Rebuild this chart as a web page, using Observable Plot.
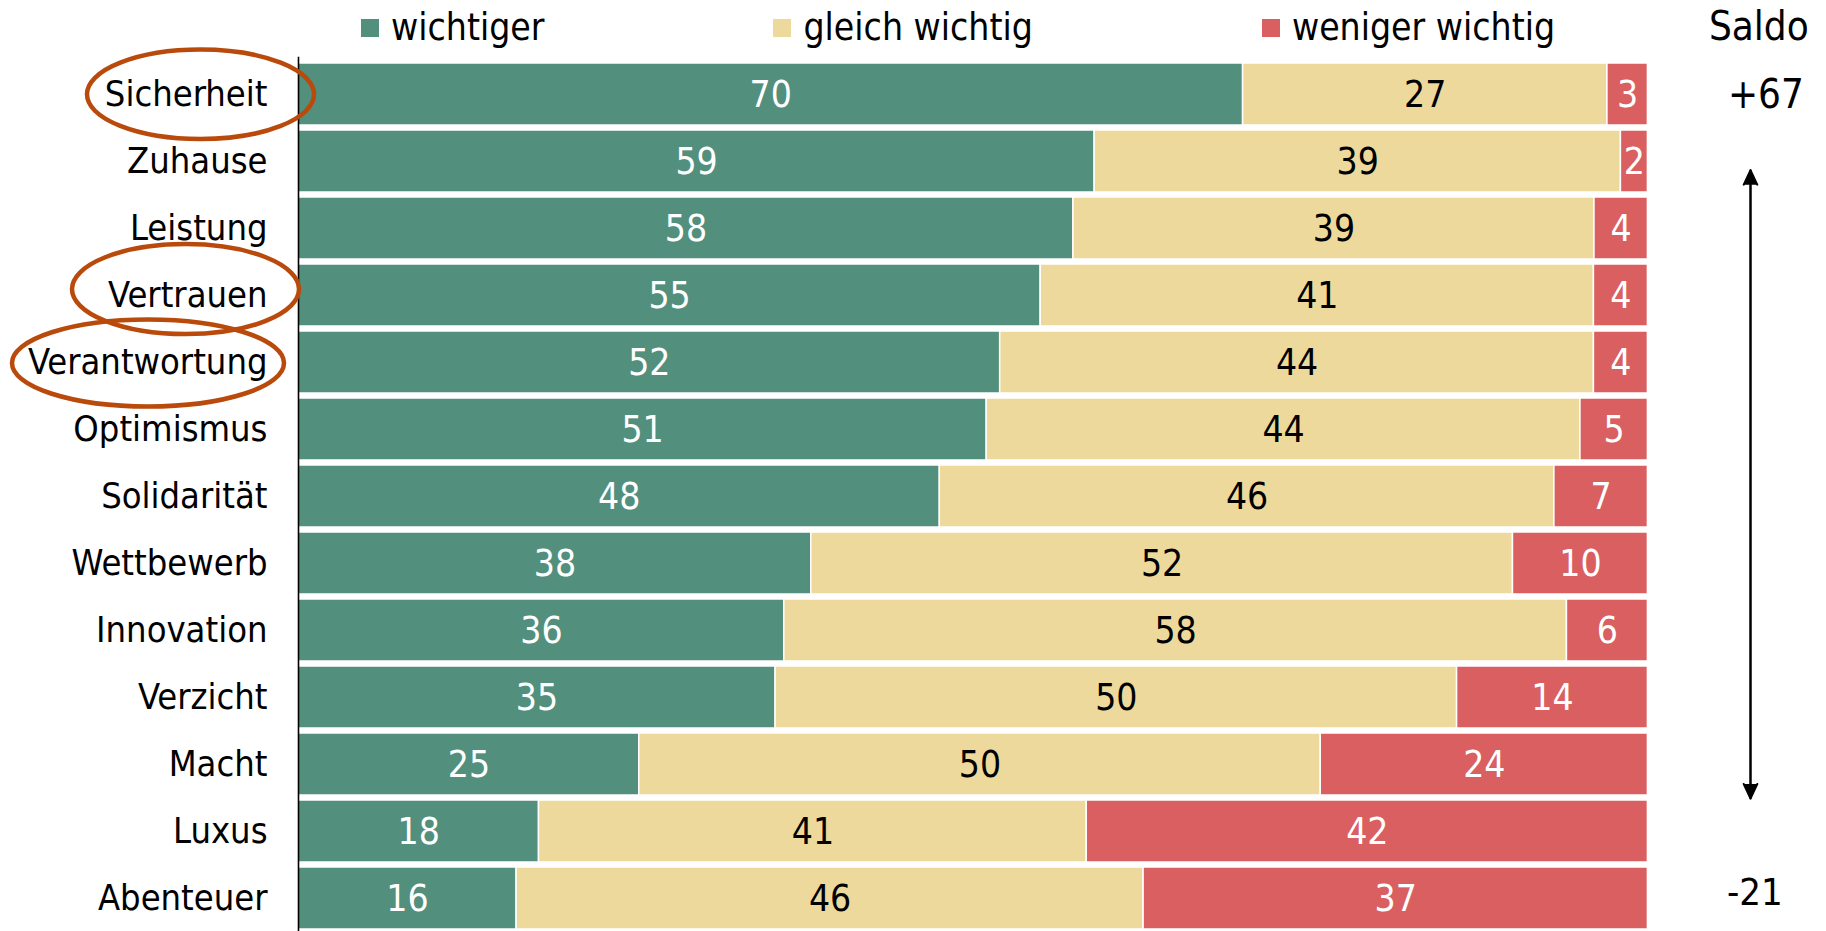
<!DOCTYPE html>
<html>
<head>
<meta charset="utf-8">
<script src="https://cdn.jsdelivr.net/npm/d3@7"></script>
<script src="https://cdn.jsdelivr.net/npm/@observablehq/plot@0.6"></script>
<style>
  html, body { margin: 0; padding: 0; background: #fff; overflow: hidden; }
  #wrap { position: relative; width: 1826px; height: 931px; }
  #wrap svg { display: block; }
  #legend { position: absolute; left: 361px; top: 10px; height: 36px; display: flex; align-items: center;
            font-family: "DejaVu Sans Condensed", "DejaVu Sans", sans-serif; font-stretch: condensed;
            font-size: 37px; line-height: 36px; color: #000; white-space: nowrap; }
  #legend .item { display: flex; align-items: center; margin-right: 229px; }
  #legend .sw { width: 18px; height: 18px; margin-right: 12px; }
  svg text { font-stretch: condensed; }
</style>
</head>
<body>
<div id="wrap"><div id="legend"></div></div>
<script>
// ---- data ----
const categories = ["Sicherheit", "Zuhause", "Leistung", "Vertrauen", "Verantwortung", "Optimismus",
  "Solidarität", "Wettbewerb", "Innovation", "Verzicht", "Macht", "Luxus", "Abenteuer"];
const series = ["wichtiger", "gleich wichtig", "weniger wichtig"];
const wichtiger      = [70, 59, 58, 55, 52, 51, 48, 38, 36, 35, 25, 18, 16];
const gleichWichtig  = [27, 39, 39, 41, 44, 44, 46, 52, 58, 50, 50, 41, 46];
const wenigerWichtig = [3, 2, 4, 4, 4, 5, 7, 10, 6, 14, 24, 42, 37];
const highlighted = ["Sicherheit", "Vertrauen", "Verantwortung"];
const saldoTitle = "Saldo";
const saldoShown = [categories[0], categories[categories.length - 1]];
const arrowSpan = {from: categories[1], to: categories[11]};

// ---- styles ----
const colors = ["#528F7D", "#EDD99B", "#D95F60"];
const ovalColor = "#B94A0B";
const FONT = '"DejaVu Sans Condensed", "DejaVu Sans", sans-serif';
// oval geometry relative to the axis and band centre (style only)
const ovalGeom = {
  "Sicherheit":    {dx: -97.5,  dy: 0.3,  rx: 113.5, ry: 44.7},
  "Vertrauen":     {dx: -112.5, dy: -5.9, rx: 113.5, ry: 45},
  "Verantwortung": {dx: -150,   dy: 1,    rx: 136,   ry: 43.5}
};

// ---- table ----
const seriesValues = [wichtiger, gleichWichtig, wenigerWichtig];
const table = [];
categories.forEach((c, i) => series.forEach((s, j) => table.push({category: c, series: s, value: seriesValues[j][i]})));
const saldoRows = saldoShown.map(c => {
  const i = categories.indexOf(c);
  return {category: c, saldo: wichtiger[i] - wenigerWichtig[i]};
});
const fmtSaldo = d => (d.saldo > 0 ? "+" : "") + d.saldo;

// ---- legend ----
const legend = document.getElementById("legend");
series.forEach((s, i) => {
  const item = document.createElement("div");
  item.className = "item";
  const sw = document.createElement("div");
  sw.className = "sw";
  sw.style.background = colors[i];
  const t = document.createElement("span");
  t.textContent = s;
  item.appendChild(sw); item.appendChild(t);
  legend.appendChild(item);
});

// ---- chart ----
const stackOpts = {x: "value", y: "category", z: "series", offset: "normalize"};
const hasAxisMark = typeof Plot.axisY === "function";

const ovals = (index, scales) => {
  const g = d3.create("svg:g");
  const x0 = scales.x(0);
  const bw = scales.y.bandwidth ? scales.y.bandwidth() : 0;
  highlighted.forEach(c => {
    const o = ovalGeom[c];
    g.append("ellipse")
      .attr("cx", x0 + o.dx)
      .attr("cy", scales.y(c) + bw / 2 + o.dy)
      .attr("rx", o.rx).attr("ry", o.ry)
      .attr("fill", "none").attr("stroke", ovalColor).attr("stroke-width", 4.5);
  });
  return g.node();
};

const marks = [
  Plot.barX(table, Plot.stackX({...stackOpts, fill: "series", stroke: "white", strokeWidth: 1.5})),
  Plot.text(table, Plot.stackX({...stackOpts, text: d => d.series !== series[1] ? String(d.value) : "",
    fill: "white", fontSize: 37, dy: 1})),
  Plot.text(table, Plot.stackX({...stackOpts, text: d => d.series === series[1] ? String(d.value) : "",
    fill: "black", fontSize: 37, dy: 1})),
  Plot.ruleX([0], {stroke: "#000", strokeWidth: 1.6, insetTop: -2.5}),
  Plot.text([saldoTitle], {text: d => d, frameAnchor: "top-right", textAnchor: "start", dx: 61, dy: -48.5, fontSize: 40, fill: "black"}),
  Plot.text(saldoRows.slice(0, 1), {y: "category", text: fmtSaldo, frameAnchor: "right", textAnchor: "start", dx: 80, dy: 0.5, fontSize: 40, fill: "black"}),
  Plot.text(saldoRows.slice(1), {y: "category", text: fmtSaldo, frameAnchor: "right", textAnchor: "start", dx: 79, dy: -6, fontSize: 38, fill: "black"}),
  Plot.arrow([arrowSpan], {x: () => 1, y1: "from", y2: "to", dx: 102.6, insetStart: 8.7, insetEnd: 33,
    stroke: "black", fill: "black", strokeWidth: 2, headLength: 12, headAngle: 50}),
  Plot.arrow([arrowSpan], {x: () => 1, y1: "to", y2: "from", dx: 102.6, insetStart: 33, insetEnd: 8.7,
    stroke: "black", fill: "black", strokeWidth: 2, headLength: 12, headAngle: 50}),
  ovals
];
if (hasAxisMark) {
  marks.push(Plot.axisY({tickSize: 0, tickPadding: 31, fontSize: 36, dy: -0.5, label: null, fill: "black"}));
}

const plot = Plot.plot({
  width: 1826,
  height: 933,
  marginLeft: 298,
  marginRight: 178.6,
  marginTop: 59.25,
  marginBottom: 0,
  style: {fontFamily: FONT, fontSize: "36px", color: "#000", background: "transparent", overflow: "visible"},
  x: {axis: null, domain: [0, 1]},
  y: {domain: categories, paddingInner: 0.0675, paddingOuter: 0, align: 0.5, label: null,
      tickSize: 0, tickPadding: 31, ...(hasAxisMark ? {} : {axis: "left"})},
  color: {domain: series, range: colors},
  marks
});
document.getElementById("wrap").appendChild(plot);
</script>
</body>
</html>
